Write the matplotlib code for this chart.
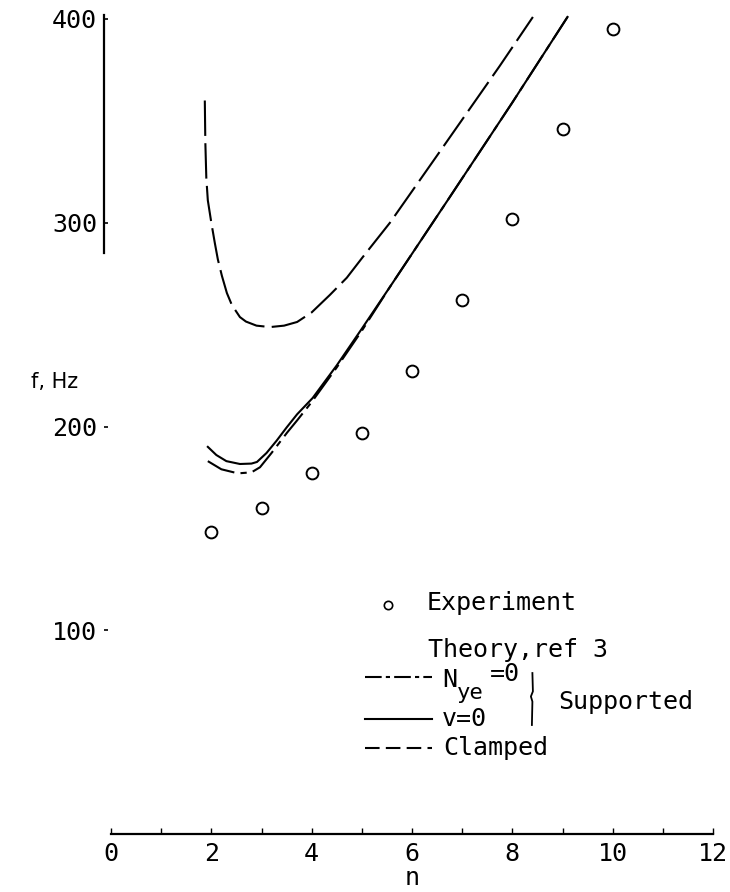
import numpy as np
import matplotlib
matplotlib.use("Agg")
import matplotlib.pyplot as plt

# experimental points
exp_n = [2, 3, 4, 5, 6, 7, 8, 9, 10]
exp_f = [148, 160, 177, 197, 227, 262, 302, 346, 395]

# theory, ref 3 - clamped
clamped_n = [1.87, 1.88, 1.90, 1.93, 2.00, 2.07, 2.13, 2.21, 2.31, 2.41, 2.57,
             2.69, 2.90, 3.17, 3.45, 3.71, 4.00, 4.36, 4.70, 5.02, 5.56, 6.50,
             7.75, 8.41]
clamped_f = [360, 340, 322, 311, 300, 290, 282, 274, 265.5, 259.6, 253.7,
             251.5, 249.5, 248.8, 249.5, 251.3, 256, 264.5, 273, 283.2, 300, 333,
             377, 401]

# supported, v=0
v0_n = [1.93, 2.10, 2.30, 2.57, 2.80, 2.91, 3.10, 3.30, 3.50, 3.71, 4.02,
        4.50, 5.00, 5.56, 6.71, 8.00, 9.10]
v0_f = [190, 186, 183, 181.6, 181.8, 182.6, 187, 193, 199.5, 206, 214,
        230, 248, 268.5, 311, 359, 401]

# supported, Nye=0
nye_n = [1.93, 2.20, 2.53, 2.80, 2.97, 3.20, 3.51, 3.71, 4.00, 4.50, 5.00,
         5.56, 6.71, 8.00, 9.10]
nye_f = [183, 179, 177, 177.5, 180, 187, 197, 203, 212, 229, 247,
         268.5, 311, 359, 401]

x_ticks = list(range(0, 13))
x_labels = ["0", "", "2", "", "4", "", "6", "", "8", "", "10", "", "12"]
y_ticks = [100, 200, 300, 400]
y_labels = ["100", "200", "300", "400"]

MONO = "DejaVu Sans Mono"
FS = 18
LW = 1.5

fig = plt.figure(figsize=(7.3, 8.92), dpi=100)
ax = fig.add_axes([111 / 730, 58 / 892, 602 / 730, 815 / 892])
ax.set_xlim(0, 12)
ax.set_ylim(0, 400)

# curves
ax.plot(clamped_n, clamped_f, color="black", lw=LW, dashes=(17, 3.5),
        clip_on=False)
ax.plot(nye_n, nye_f, color="black", lw=LW, dashes=(14, 3, 3, 3),
        clip_on=False)
ax.plot(v0_n, v0_f, color="black", lw=LW, clip_on=False)
ax.plot(exp_n, exp_f, "o", ms=8.5, mfc="white", mec="black", mew=1.4,
        clip_on=False)

# axes look
for s in ["top", "right"]:
    ax.spines[s].set_visible(False)
ax.spines["left"].set_position(("data", -0.14))
ax.spines["left"].set_bounds(285, 402)
ax.spines["left"].set_linewidth(1.6)
ax.spines["bottom"].set_bounds(0, 12)
ax.spines["bottom"].set_linewidth(1.6)

ax.set_xticks(x_ticks)
ax.set_xticklabels(x_labels, fontfamily=MONO, fontsize=FS)
ax.set_yticks(y_ticks)
ax.set_yticklabels(y_labels, fontfamily=MONO, fontsize=FS)
ax.tick_params(axis="x", direction="in", length=4, width=1, pad=6)
ax.tick_params(axis="y", direction="in", length=3, width=1.2, pad=5)

ax.text(0.5, -0.054, "n", transform=ax.transAxes, ha="center", va="center",
        fontfamily=MONO, fontsize=FS)
ax.text(-1.6, 222, "f, Hz", ha="left", va="center", fontfamily="DejaVu Sans",
        fontsize=15)

# legend drawn by hand
ax.plot([5.52], [112.4], "o", ms=6, mfc="white", mec="black", mew=1.2)
ax.text(6.30, 113.4, "Experiment", ha="left", va="center", fontfamily=MONO,
        fontsize=FS)
ax.text(6.32, 90.3, "Theory,ref 3", ha="left", va="center", fontfamily=MONO,
        fontsize=FS)

ax.plot([5.06, 6.40], [77.1, 77.1], color="black", lw=LW, dashes=(8, 2, 2, 2))
ax.text(6.60, 75.6, "N", ha="left", va="center", fontfamily=MONO, fontsize=FS)
ax.text(6.90, 69.2, "ye", ha="left", va="center", fontfamily=MONO, fontsize=16)
ax.text(7.55, 78.5, "=0", ha="left", va="center", fontfamily=MONO, fontsize=FS)

ax.plot([5.06, 6.40], [56.4, 56.4], color="black", lw=LW)
ax.text(6.60, 56.4, "v=0", ha="left", va="center", fontfamily=MONO, fontsize=FS)

ax.plot([5.06, 6.40], [42.2, 42.2], color="black", lw=LW, dashes=(7, 3))
ax.text(6.62, 42.2, "Clamped", ha="left", va="center", fontfamily=MONO,
        fontsize=FS)

ax.plot([8.40, 8.41, 8.37, 8.40, 8.39], [79, 70, 67.5, 65, 53.5],
        color="black", lw=1.3)
ax.text(8.91, 64.8, "Supported", ha="left", va="center", fontfamily=MONO,
        fontsize=FS)

fig.savefig("out.png", dpi=100, facecolor="white")
